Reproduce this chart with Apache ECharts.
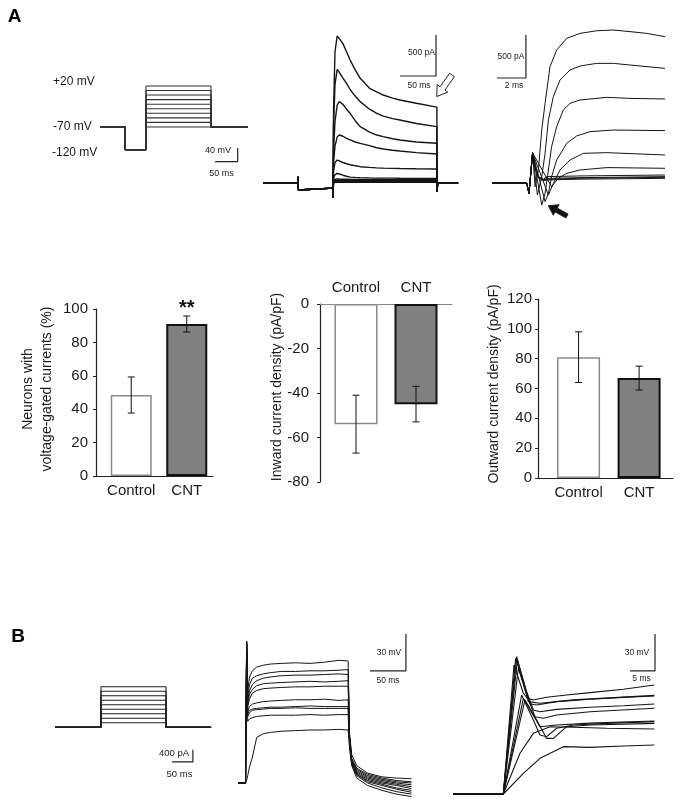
<!DOCTYPE html>
<html><head><meta charset="utf-8">
<script src="https://cdn.jsdelivr.net/npm/echarts@6/dist/echarts.min.js"></script>
<style>html,body{margin:0;padding:0;background:#fff}#c{width:683px;height:808px}</style>
</head><body><div id="c"></div>
<script>
const FONT = 'Liberation Sans, Arial, Helvetica, sans-serif';

// ===== Panel A: voltage protocol (mV vs ms) =====
const vLevels = [-70, -60, -50, -40, -30, -20, -10, 0, 10, 20];
const vHold = -70, vPre = -120;
const vTimes = [0, 39, 71.5, 172.5, 230];           // start, pre-pulse, step on, step off, end
const vBar = {x: 214, y: -146, dx: 35, dy: 30};      // scale bar (as drawn)

// ===== Panel A: whole-cell currents (pA vs ms) =====
const cPre = -62;
const cTimes = {pre: 48.6, step: 97, off: 241.5, end: 271};
const cPreSpike = [75, -85], cTail = -110;
const cT = [97, 98, 100, 103, 106, 111, 116, 121, 128, 135, 148, 158, 167, 180, 190, 213, 241.5];
const cTr1 = [-180, 900, 1600, 1793, 1760, 1700, 1600, 1500, 1380, 1277, 1155, 1110, 1073, 1035, 1012, 972, 925];
const cTr2 = [-180, 700, 1200, 1386, 1350, 1280, 1216, 1140, 1060, 992, 900, 850, 815, 785, 768, 725, 687];
const cTr3 = [-180, 400, 750, 950, 992, 960, 900, 850, 760, 687, 620, 585, 565, 540, 524, 500, 484];
const cTr4 = [-180, 250, 450, 560, 585, 570, 545, 525, 500, 484, 455, 430, 415, 400, 390, 370, 354];
const cTr5 = [-180, 150, 250, 280, 270, 250, 235, 222, 210, 199, 190, 185, 182, 178, 176, 173, 171];
const cTr6 = [-180, 60, 100, 118, 110, 95, 82, 72, 68, 65, 62, 60, 60, 59, 58, 57, 57];
const cTr7 = [-180, 40, 48, 50, 48, 46, 45, 44, 44, 43, 42, 42, 41, 41, 40, 40, 40];
const cTr8 = [-180, 28, 34, 35, 34, 33, 32, 32, 31, 31, 30, 30, 30, 30, 29, 29, 29];
const cTr9 = [-180, 15, 20, 22, 21, 20, 20, 19, 19, 19, 18, 18, 18, 18, 18, 18, 18];
const cTr10 = [-180, 5, 9, 10, 10, 9, 9, 9, 8, 8, 8, 8, 8, 8, 8, 8, 8];
const cBar = {x: 240.3, y: 1305, dx: 50, dy: 500};

// ===== Panel A: expanded currents (pA vs ms) =====
const fStart = [[0, 0], [2.39, 0], [2.55, -120], [2.8, 350]];
const fTr1 = [[2.97,-43],[3.2,151],[3.43,616],[3.66,926],[4.0,1353],[4.46,1546],[5.15,1682],[6.07,1740],[7.22,1770],[8.37,1779],[9.52,1760],[10.67,1740],[11.93,1701]];
const fTr2 = [[3.13,-140],[3.43,74],[3.66,345],[3.89,733],[4.23,1004],[4.69,1198],[5.38,1314],[6.07,1360],[7.22,1391],[8.37,1391],[9.52,1372],[11.93,1333]];
const fTr3 = [[3.43,-256],[3.66,-120],[3.89,151],[4.11,422],[4.46,655],[4.92,849],[5.38,926],[6.07,965],[7.91,996],[9.52,984],[11.93,977]];
const fTr4 = [[3.66,-217],[3.89,-120],[4.11,74],[4.46,267],[5.15,461],[5.84,547],[6.76,597],[8.37,616],[11.93,609]];
const fTr5 = [[3.89,-140],[4.23,-4],[4.69,151],[5.38,267],[6.3,345],[7.91,353],[11.93,326]];
const fTr6 = [[4.11,-43],[4.57,54],[5.15,112],[6.07,151],[7.91,179],[11.93,171]];
const fTr7 = [[2.97,190],[3.2,74],[3.54,43],[3.77,74],[6.07,82],[11.93,93]];
const fTr8 = [[2.97,190],[3.2,70],[3.54,35],[3.77,54],[6.07,62],[11.93,74]];
const fTr9 = [[2.97,190],[3.2,66],[3.54,30],[3.77,43],[6.07,55],[11.93,66]];
const fTr10 = [[2.97,190],[3.2,60],[3.54,25],[3.77,35],[6.07,45],[11.93,54]];
const fBar = {x: 2.34, y: 1221, dx: 2, dy: 500};

// ===== Bar charts =====
const barCats = ['Control', 'CNT'];
const pctMean = [48.5, 91], pctErr = [10.8, 4.8], pctSig = ['', '**'];
const inMean = [-54, -45], inErr = [13, 8];
const outMean = [81, 67], outErr = [17, 8];

// ===== Panel B: current-clamp protocol (pA vs ms) =====
const iLevels = [150, 300, 450, 600, 750, 900, 1050, 1200, 1350];
const iTimes = [0, 65.7, 158.6, 223];
const iBar = {x: 197, y: -1150, dx: 30, dy: 400};

// ===== Panel B: voltage responses (mV vs ms) =====
const tB = [0, 10.5, 12, 13.5, 16, 20, 26, 35, 45, 60, 80, 100, 120, 140, 153, 155, 158, 165, 180, 200, 220, 241];
const vB1 = [-70,-70,45,5,16,21,24,25.5,26.5,27,27.5,27,28,29.5,29,-30,-47,-56,-62,-65,-66,-66.5];
const vB2 = [-70,-70,45,0,10,15,17,18.5,19.5,20.5,20.5,21,21,21.5,22,-32,-50,-58,-63,-66,-68,-69];
const vB3 = [-70,-70,44,-3,5,10,13,15,16,17,17.5,17.5,18,18.5,18,-33,-51,-59,-64,-67,-69,-70];
const vB4 = [-70,-70,44,-6,2,6,9,10.5,11,11.5,12,12.5,12,12.5,13,-34,-52,-60,-65,-68,-70,-71.5];
const vB5 = [-70,-70,43,-8,-2,3,5,6.5,7,7.5,8,8,8.5,8.5,8.5,-35,-52,-61,-66,-69,-71,-73];
const vB6 = [-70,-70,42,-12,-8,-6,-5,-4,-3.5,-3,-2.5,-2.5,-2,-3,-2.5,-36,-53,-62,-67,-70,-72,-74.5];
const vB7 = [-70,-70,40,-14,-11,-10,-9.5,-9,-8.5,-8.5,-8,-7.5,-8,-8,-8,-37,-54,-63,-68,-71,-74,-76];
const vB8 = [-70,-70,38,-16,-13,-11,-10.5,-10,-9.5,-9.5,-9,-9.5,-9.5,-9.5,-9.5,-37,-54,-63,-69,-72,-75,-77.5];
const vB9 = [-70,-70,35,-20,-18,-17,-16,-15.5,-15,-15,-15,-14.5,-15,-14.5,-14.5,-38,-55,-64,-70,-74,-77,-79];
const vB10 = [-70,-70,-68,-64,-57,-49,-33,-30,-29,-28,-27.5,-27,-27,-26.5,-27,-42,-56,-66,-72,-76,-79,-81];
const bBar = {x: 233.3, y: 20.9, dx: 50, dy: 30};

// ===== Panel B: expanded spikes (mV vs ms) =====
const rStart = [[0, -70], [10.07, -70]];
const rTr1 = [[12.2,34.6],[14.07,11.7],[14.87,7.6],[16.07,6.3],[18.73,8.4],[22.73,10.3],[27.4,12.2],[34.07,14.9],[40.27,18.4]];
const rTr2 = [[12.73,41.4],[14.4,17.1],[15.4,3.0],[16.73,2.2],[20.73,4.9],[27.4,6.8],[34.07,8.4],[40.27,9.5]];
const rTr3 = [[12.53,40],[14.07,19.8],[15.07,4.9],[17.4,3.6],[24.07,6.3],[40.27,10]];
const rTr4 = [[12.87,38.7],[14.6,14.4],[16.07,-1.9],[17.4,-3.3],[20.73,-1.4],[27.4,0.3],[34.07,1.6],[40.27,3.0]];
const rTr5 = [[13.07,32],[14.87,9.0],[16.4,-7.3],[18.07,-8.6],[20.73,-5.9],[27.4,-3.3],[40.27,-0.5]];
const rTr6 = [[13.73,10.3],[16.07,-10],[17.4,-22.2],[18.73,-23.5],[20.73,-16.7],[24.07,-14],[30.73,-12.7],[40.27,-11.3]];
const rTr7 = [[14.07,7.6],[17.4,-15.4],[20.73,-14],[27.4,-12.5],[40.27,-10.8]];
const rTr8 = [[14.4,6.3],[16.73,-10],[18.73,-24.9],[20.07,-24.9],[22.73,-15.4],[27.4,-14],[40.27,-12.7]];
const rTr9 = [[13.4,-37],[16.07,-20.8],[19.4,-15.4],[24.07,-15.9],[30.73,-16.7],[40.27,-17.3]];
const rTr10 = [[14.07,-53.2],[17.4,-41.1],[22.07,-31.6],[27.4,-32.2],[34.07,-31.1],[40.27,-30.3]];
const rBar = {x: 40.4, y: 29.8, dx: 5, dy: 30};

// ---------------------------------------------------------------
const grids = [], xAxes = [], yAxes = [], series = [];
function traceGrid(rect, xr, yr) {
  const i = grids.length;
  grids.push({left: rect[0], top: rect[1], width: rect[2], height: rect[3]});
  xAxes.push({gridIndex: i, type: 'value', min: xr[0], max: xr[1], show: false});
  yAxes.push({gridIndex: i, type: 'value', min: yr[0], max: yr[1], show: false});
  return i;
}
function line(gi, data, width, color) {
  series.push({type: 'line', xAxisIndex: gi, yAxisIndex: gi, data: data, symbol: 'none',
    silent: true, animation: false, clip: false, lineStyle: {width: width, color: color}});
}
function scaleBar(gi, b) {
  line(gi, [[b.x - b.dx, b.y], [b.x, b.y], [b.x, b.y + b.dy]], 1.2, '#222');
}
const zip = (t, v) => t.map((x, k) => [x, v[k]]);

// A protocol
const gA1 = traceGrid([100, 81.4, 148, 82], [0, 230], [-150, 30]);
vLevels.forEach(L => line(gA1, [[vTimes[0], vHold], [vTimes[1], vHold], [vTimes[1], vPre], [vTimes[2], vPre],
  [vTimes[2], L], [vTimes[3], L], [vTimes[3], vHold], [vTimes[4], vHold]], 1.1, '#333'));
scaleBar(gA1, vBar);

// A currents
const gA2 = traceGrid([263, 27.2, 194.4, 180.4], [0, 270], [-300, 1900]);
[cTr10, cTr9, cTr8, cTr7, cTr6, cTr5, cTr4, cTr3, cTr2, cTr1].forEach(tr => {
  const d = [[0, 0], [cTimes.pre, 0], [cTimes.pre + 0.2, cPreSpike[0]], [cTimes.pre + 0.5, cPreSpike[1]],
    [cTimes.pre + 1, cPre], [cTimes.step, cPre]].concat(zip(cT, tr))
    .concat([[cTimes.off + 0.2, cTail], [cTimes.off + 1, 0], [cTimes.end, 0]]);
  line(gA2, d, 1.4, '#151515');
});
scaleBar(gA2, cBar);

// A expanded
const gA3 = traceGrid([492, 19.6, 174, 197.8], [0, 12], [-400, 1900]);
[fTr10, fTr9, fTr8, fTr7, fTr6, fTr5, fTr4, fTr3, fTr2, fTr1].forEach(tr => line(gA3, fStart.concat(tr), 1.0, '#151515'));
scaleBar(gA3, fBar);

// bar charts
function barGrid(rect, xr, yr, interval, pos, xColor, yMargin, cMargin) {
  const i = grids.length;
  grids.push({left: rect[0], top: rect[1], width: rect[2], height: rect[3]});
  xAxes.push({gridIndex: i, type: 'value', min: xr[0], max: xr[1], position: pos,
    axisLine: {show: true, onZero: false, lineStyle: {color: xColor, width: 1.2}},
    axisTick: {show: false}, splitLine: {show: false},
    axisLabel: {customValues: [0, 1], formatter: v => barCats[Math.round(v)], fontSize: 15,
      color: '#1a1a1a', fontFamily: FONT, margin: cMargin}});
  yAxes.push({gridIndex: i, type: 'value', min: yr[0], max: yr[1], interval: interval,
    axisLine: {show: true, onZero: false, lineStyle: {color: '#222', width: 1.2}},
    axisTick: {show: true, length: 3, lineStyle: {color: '#222'}}, splitLine: {show: false},
    axisLabel: {fontSize: 15, color: '#1a1a1a', fontFamily: FONT, margin: yMargin}});
  return i;
}
const barStyles = [{color: '#ffffff', borderColor: '#8a8a8a', borderWidth: 1.5},
                   {color: '#808080', borderColor: '#111111', borderWidth: 2}];
function bars(gi, means, errs, bw, sig) {
  series.push({type: 'bar', xAxisIndex: gi, yAxisIndex: gi, barWidth: bw, silent: true, animation: false,
    data: means.map((m, k) => ({value: [k, m], itemStyle: barStyles[k]}))});
  series.push({type: 'custom', xAxisIndex: gi, yAxisIndex: gi, silent: true, animation: false, z: 5,
    encode: {x: 0, y: [1, 2]},
    data: means.map((m, k) => [k, m - errs[k], m + errs[k]]),
    renderItem: function (params, api) {
      const x = api.value(0), lo = api.coord([x, api.value(1)]), hi = api.coord([x, api.value(2)]);
      const w = 3.5, st = {stroke: '#111', lineWidth: 1};
      const ch = [
        {type: 'line', shape: {x1: lo[0], y1: lo[1], x2: hi[0], y2: hi[1]}, style: st},
        {type: 'line', shape: {x1: lo[0] - w, y1: lo[1], x2: lo[0] + w, y2: lo[1]}, style: st},
        {type: 'line', shape: {x1: hi[0] - w, y1: hi[1], x2: hi[0] + w, y2: hi[1]}, style: st}];
      if (sig && sig[params.dataIndex]) ch.push({type: 'text', x: hi[0], y: hi[1] - 8,
        style: {text: sig[params.dataIndex], fontSize: 20, fontWeight: 'bold', fontFamily: FONT,
          fill: '#111', align: 'center', verticalAlign: 'middle'}});
      return {type: 'group', children: ch};
    }});
}
const gP1 = barGrid([96, 309, 117, 167], [-0.635, 1.473], [0, 100], 20, 'bottom', '#222', 8, 7);
bars(gP1, pctMean, pctErr, 41, pctSig);
const gP2 = barGrid([320, 304, 132, 178], [-0.6, 1.6], [-80, 0], 20, 'top', '#888', 11, 9);
bars(gP2, inMean, inErr, 43);
const gP3 = barGrid([538, 299, 135, 179], [-0.67, 1.56], [0, 120], 20, 'bottom', '#222', 6, 7);
bars(gP3, outMean, outErr, 43);

// B protocol
const gB1 = traceGrid([55, 682.3, 156.1, 81], [0, 223], [-1200, 1500]);
iLevels.forEach(L => line(gB1, [[iTimes[0], 0], [iTimes[1], 0], [iTimes[1], L], [iTimes[2], L],
  [iTimes[2], 0], [iTimes[3], 0]], 1.1, '#222'));
scaleBar(gB1, iBar);

// B responses
const gB2 = traceGrid([238, 632.6, 174.2, 168.9], [0, 242], [-85, 52]);
[vB1, vB2, vB3, vB4, vB5, vB6, vB7, vB8, vB9, vB10].forEach(v => line(gB2, zip(tB, v), 1.0, '#151515'));
scaleBar(gB2, bBar);

// B expanded
const gB3 = traceGrid([453, 633.7, 205, 167.7], [0, 41], [-76, 60]);
[rTr1, rTr2, rTr3, rTr4, rTr5, rTr6, rTr7, rTr8, rTr9, rTr10].forEach(tr => line(gB3, rStart.concat(tr), 1.1, '#151515'));
scaleBar(gB3, rBar);

// ---------------------------------------------------------------
function txt(x, y, s, size, opt) {
  opt = opt || {};
  return {type: 'text', x: x, y: y, rotation: opt.rot || 0, silent: true,
    style: {text: s, fontSize: size, fontFamily: FONT, fontWeight: opt.bold ? 'bold' : 'normal',
      fill: opt.fill || '#1a1a1a', align: opt.align || 'center', verticalAlign: 'middle',
      lineHeight: opt.lh}};
}
function arrow(pts, fill) {
  return {type: 'polygon', silent: true, shape: {points: pts},
    style: {fill: fill, stroke: '#222', lineWidth: 1}};
}
const graphic = [
  txt(14.5, 17, 'A', 19, {bold: true, fill: '#000'}),
  txt(18, 637, 'B', 19, {bold: true, fill: '#000'}),
  txt(53, 82, '+20 mV', 12, {align: 'left'}),
  txt(53, 127, '-70 mV', 12, {align: 'left'}),
  txt(52, 153, '-120 mV', 12, {align: 'left'}),
  txt(218, 151, '40 mV', 9),
  txt(221.5, 174, '50 ms', 9),
  txt(421.5, 53, '500 pA', 8.5),
  txt(419, 86, '50 ms', 8.5),
  txt(511, 57, '500 pA', 8.5),
  txt(514, 86, '2 ms', 8.5),
  txt(174, 753, '400 pA', 9.5),
  txt(179.5, 774, '50 ms', 9.5),
  txt(389, 653, '30 mV', 8.5),
  txt(388, 681, '50 ms', 8.5),
  txt(637, 653, '30 mV', 8.5),
  txt(641.5, 679, '5 ms', 8.5),
  txt(37.5, 389, 'Neurons with\nvoltage-gated currents (%)', 14, {rot: Math.PI / 2, lh: 19}),
  txt(277, 387, 'Inward current density (pA/pF)', 14, {rot: Math.PI / 2}),
  txt(494, 384, 'Outward current density (pA/pF)', 14, {rot: Math.PI / 2}),
  arrow([[436.7, 96.5], [447.8, 92.2], [444.9, 90.1], [454.4, 76.7], [449.6, 73.3], [440.1, 86.7], [437.2, 84.6]], '#fff'),
  arrow([[548.3, 205.7], [559.1, 204.7], [557.3, 208.1], [568.1, 214.1], [565.9, 217.9], [555.1, 211.9], [553.3, 215.3]], '#111')
];

const chart = echarts.init(document.getElementById('c'), null, {renderer: 'canvas'});
chart.setOption({animation: false, backgroundColor: '#fff', grid: grids, xAxis: xAxes, yAxis: yAxes,
  series: series, graphic: graphic});
</script></body></html>
